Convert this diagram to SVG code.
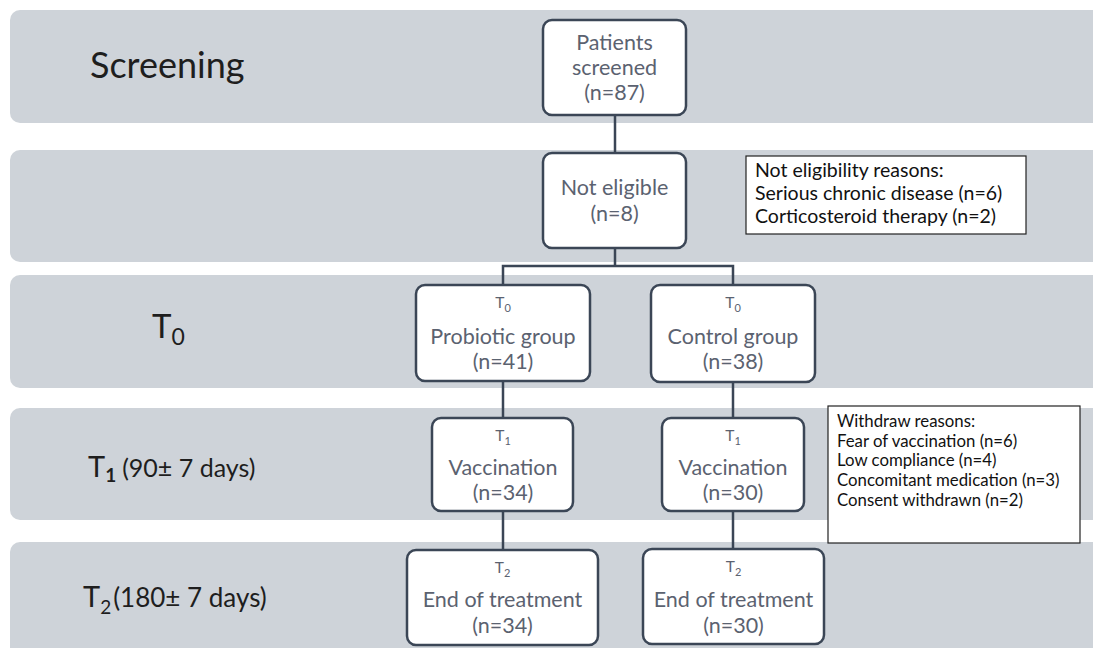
<svg xmlns="http://www.w3.org/2000/svg" width="1093" height="648" viewBox="0 0 1093 648">
<style>
.band{fill:#ced3d9;}
.node{fill:#ffffff;stroke:#3b4656;stroke-width:2.5;}
.note{fill:#ffffff;stroke:#222222;stroke-width:1.2;}
.conn{stroke:#3b4656;stroke-width:2.5;fill:none;}
.nt{font-family:Lato,"Open Sans",sans-serif;font-size:21.5px;fill:#5b6270;text-anchor:middle;}
.ns{font-family:Lato,"Open Sans",sans-serif;font-size:15.5px;fill:#5b6270;text-anchor:middle;}
.rt{font-family:Lato,"Open Sans",sans-serif;font-size:19.5px;fill:#111111;}
.wt{font-family:Lato,"Open Sans",sans-serif;font-size:16.8px;fill:#111111;}
.lab{font-family:Lato,"Open Sans",sans-serif;fill:#1e1e1e;}
</style>
<rect width="1093" height="648" fill="#ffffff"/>
<g id="bands">
<rect class="band" x="10" y="10" width="1100" height="113" rx="10"/>
<rect class="band" x="10" y="150" width="1100" height="112" rx="10"/>
<rect class="band" x="10" y="275" width="1100" height="113" rx="10"/>
<rect class="band" x="10" y="408" width="1100" height="112" rx="10"/>
<rect class="band" x="10" y="542" width="1100" height="120" rx="10"/>
</g>
<g id="labels">
<text class="lab" x="90" y="78" font-size="36">Screening</text>
<text class="lab" x="152" y="338" font-size="33">T<tspan font-size="23" dy="7">0</tspan></text>
<text class="lab" x="88" y="477" font-size="29">T<tspan font-size="19" dy="5" font-weight="bold">1</tspan><tspan font-size="25" dy="-5" dx="6">(90± 7 days)</tspan></text>
<text class="lab" x="83" y="607" font-size="29" fill="#2a2a2a">T<tspan font-size="19" dy="7">2</tspan><tspan font-size="26" dy="-7" dx="2">(180± 7 days)</tspan></text>
</g>
<g id="connectors">
<line class="conn" x1="615" y1="115" x2="615" y2="153"/>
<polyline class="conn" points="615,248 615,266"/>
<polyline class="conn" points="503,285 503,266 733,266 733,285"/>
<line class="conn" x1="503" y1="381" x2="503" y2="418"/>
<line class="conn" x1="733" y1="382" x2="733" y2="418"/>
<line class="conn" x1="503" y1="511" x2="503" y2="550"/>
<line class="conn" x1="733" y1="511" x2="733" y2="549"/>
</g>
<g id="patients">
<rect class="node" x="543" y="20" width="143" height="95" rx="9"/>
<text class="nt" x="614.5" y="50">Patients</text>
<text class="nt" x="614.5" y="75">screened</text>
<text class="nt" x="614.5" y="100">(n=87)</text>
</g>
<g id="noteligible">
<rect class="node" x="543" y="153" width="143" height="95" rx="9"/>
<text class="nt" x="614.5" y="195">Not eligible</text>
<text class="nt" x="614.5" y="221">(n=8)</text>
</g>
<g id="reasons">
<rect class="note" x="746" y="156" width="280" height="78"/>
<text class="rt" x="755" y="177">Not eligibility reasons:</text>
<text class="rt" x="755" y="200">Serious chronic disease (n=6)</text>
<text class="rt" x="755" y="223">Corticosteroid therapy (n=2)</text>
</g>
<g id="probiotic">
<rect class="node" x="416" y="285" width="174" height="96" rx="9"/>
<text class="ns" x="503" y="308">T<tspan font-size="11" dy="4">0</tspan></text>
<text class="nt" x="503" y="344">Probiotic group</text>
<text class="nt" x="503" y="369">(n=41)</text>
</g>
<g id="control">
<rect class="node" x="651" y="285" width="164" height="97" rx="9"/>
<text class="ns" x="733" y="308">T<tspan font-size="11" dy="4">0</tspan></text>
<text class="nt" x="733" y="344">Control group</text>
<text class="nt" x="733" y="369">(n=38)</text>
</g>
<g id="vacc-probiotic">
<rect class="node" x="432" y="418" width="141" height="93" rx="9"/>
<text class="ns" x="503" y="441">T<tspan font-size="11" dy="4">1</tspan></text>
<text class="nt" x="503" y="475">Vaccination</text>
<text class="nt" x="503" y="500">(n=34)</text>
</g>
<g id="vacc-control">
<rect class="node" x="662" y="418" width="142" height="93" rx="9"/>
<text class="ns" x="733" y="441">T<tspan font-size="11" dy="4">1</tspan></text>
<text class="nt" x="733" y="475">Vaccination</text>
<text class="nt" x="733" y="500">(n=30)</text>
</g>
<g id="withdraw">
<rect class="note" x="828" y="406" width="252" height="137"/>
<text class="wt" x="837" y="427">Withdraw reasons:</text>
<text class="wt" x="837" y="447">Fear of vaccination (n=6)</text>
<text class="wt" x="837" y="466">Low compliance (n=4)</text>
<text class="wt" x="837" y="486">Concomitant medication (n=3)</text>
<text class="wt" x="837" y="506">Consent withdrawn (n=2)</text>
</g>
<g id="end-probiotic">
<rect class="node" x="407" y="550" width="191" height="95" rx="9"/>
<text class="ns" x="502.5" y="573">T<tspan font-size="11" dy="4">2</tspan></text>
<text class="nt" x="502.5" y="607">End of treatment</text>
<text class="nt" x="502.5" y="633">(n=34)</text>
</g>
<g id="end-control">
<rect class="node" x="643" y="549" width="181" height="95" rx="9"/>
<text class="ns" x="733.5" y="572">T<tspan font-size="11" dy="4">2</tspan></text>
<text class="nt" x="733.5" y="607">End of treatment</text>
<text class="nt" x="733.5" y="633">(n=30)</text>
</g>
</svg>
